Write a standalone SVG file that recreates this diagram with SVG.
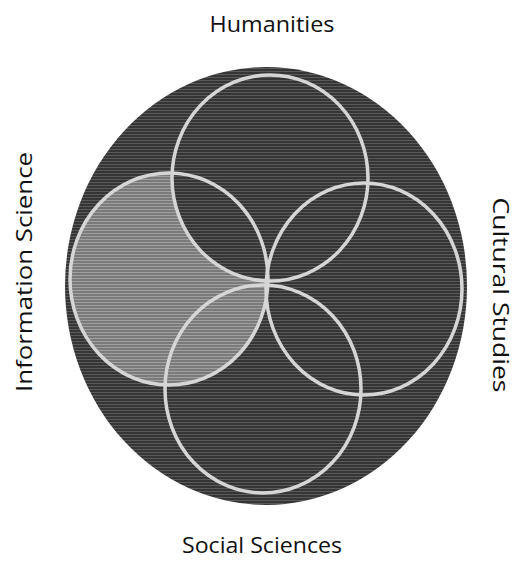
<svg xmlns="http://www.w3.org/2000/svg" width="516" height="561" viewBox="0 0 516 561">
  <style>
    .lbl { font-family: "Open Sans", "DejaVu Sans", sans-serif; font-size: 22px; fill: #111; }
    .ring { fill: none; stroke: #d6d6d6; stroke-width: 3.5; }
  </style>
  <defs>
    <pattern id="darkTex" width="6" height="3" patternUnits="userSpaceOnUse">
      <rect width="6" height="3" fill="#353535"/>
      <rect y="2" width="6" height="1" fill="#5a5a5a"/>
    </pattern>
    <pattern id="lightTex" width="6" height="3" patternUnits="userSpaceOnUse">
      <rect width="6" height="3" fill="#7a7a7a"/>
      <rect y="2" width="6" height="1" fill="#a0a0a0"/>
    </pattern>
    <clipPath id="leftClip">
      <ellipse cx="169" cy="279" rx="99" ry="106"/>
    </clipPath>
  </defs>
  <rect width="516" height="561" fill="#ffffff"/>

  <g id="background">
    <ellipse cx="266" cy="286" rx="201" ry="219" fill="url(#darkTex)"/>
  </g>

  <g id="information-science">
    <ellipse cx="169" cy="279" rx="99" ry="106" fill="url(#lightTex)"/>
    <ellipse cx="270" cy="178" rx="98" ry="103" fill="url(#darkTex)" clip-path="url(#leftClip)"/>
    <ellipse class="ring" cx="169" cy="279" rx="99" ry="106"/>
  </g>
  <g id="humanities">
    <ellipse class="ring" cx="270" cy="178" rx="98" ry="103"/>
  </g>
  <g id="cultural-studies">
    <ellipse class="ring" cx="364" cy="289" rx="98" ry="106"/>
  </g>
  <g id="social-sciences">
    <ellipse class="ring" cx="263" cy="389" rx="98" ry="104"/>
  </g>

  <g id="connectors"></g>

  <g id="labels">
    <text class="lbl" x="272" y="32" text-anchor="middle" textLength="125" lengthAdjust="spacingAndGlyphs">Humanities</text>
    <text class="lbl" x="262" y="553" text-anchor="middle" textLength="160" lengthAdjust="spacingAndGlyphs">Social Sciences</text>
    <text class="lbl" transform="translate(32,272) rotate(-90)" text-anchor="middle" textLength="240" lengthAdjust="spacingAndGlyphs">Information Science</text>
    <text class="lbl" transform="translate(493,295) rotate(90)" text-anchor="middle" textLength="195" lengthAdjust="spacingAndGlyphs">Cultural Studies</text>
  </g>
</svg>
